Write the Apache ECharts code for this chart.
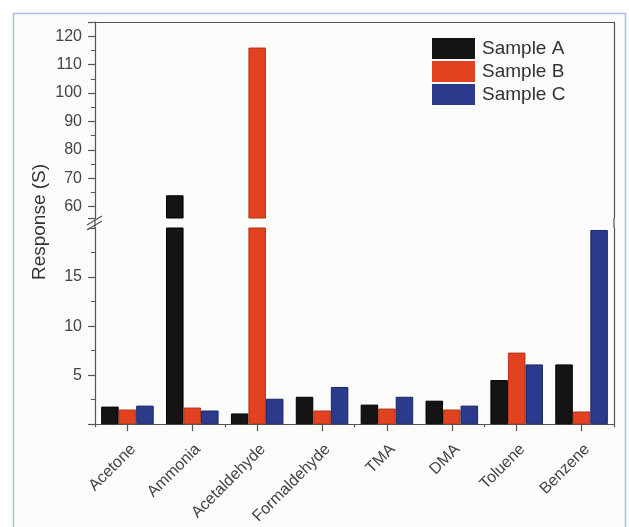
<!DOCTYPE html>
<html>
<head>
<meta charset="utf-8">
<script src="https://cdn.jsdelivr.net/npm/echarts@6/dist/echarts.min.js"></script>
<style>html,body{margin:0;padding:0;background:#fff}#c{width:629px;height:527px}</style>
</head>
<body>
<div id="c"></div>
<script>
const categories = ['Acetone','Ammonia','Acetaldehyde','Formaldehyde','TMA','DMA','Toluene','Benzene'];
const sampleA = [1.8, 64, 1.1, 2.8, 2.0, 2.4, 4.5, 6.1];
const sampleB = [1.5, 1.7, 116, 1.4, 1.6, 1.5, 7.3, 1.3];
const sampleC = [1.9, 1.4, 2.6, 3.8, 2.8, 1.9, 6.1, 19.8];
const seriesNames = ['Sample A','Sample B','Sample C'];
const upperRange = [56, 125];
const lowerRange = [0, 20];
const upperTickLabels = [60, 70, 80, 90, 100, 110, 120];
const lowerTickLabels = [5, 10, 15];

const W = 629, H = 527;
const L = 95, R = 614, T = 22, breakTop = 218, breakBot = 228, B = 425;
const font = 'Liberation Sans, Arial, sans-serif';
const axisCol = '#555';
const colors = ['#141414', '#e2421f', '#2b3a8a'];
const borders = ['#000000', '#b0331a', '#1c2866'];

const chart = echarts.init(document.getElementById('c'), null, {renderer: 'canvas'});

const baseY = {
  type: 'value',
  axisLine: {show: true, lineStyle: {color: axisCol, width: 1.2}},
  axisTick: {show: true, length: 7, lineStyle: {color: axisCol, width: 1.2}},
  minorTick: {show: true, splitNumber: 2, length: 4, lineStyle: {color: axisCol, width: 1}},
  splitLine: {show: false},
  axisLabel: {fontSize: 16, color: '#444', margin: 13, fontFamily: font}
};

const rightY = (g) => ({
  type: 'value', gridIndex: g, position: 'right',
  min: g === 0 ? upperRange[0] : lowerRange[0], max: g === 0 ? upperRange[1] : lowerRange[1],
  axisLine: {show: true, onZero: false, lineStyle: {color: axisCol, width: 1.2}},
  axisTick: {show: false}, axisLabel: {show: false}, splitLine: {show: false}
});

const allData = [sampleA, sampleB, sampleC];
const series = [];
for (let g = 0; g < 2; g++) {
  for (let i = 0; i < 3; i++) {
    series.push({
      name: seriesNames[i], type: 'bar',
      xAxisIndex: g === 0 ? 0 : 1, yAxisIndex: g === 0 ? 0 : 2,
      data: allData[i], clip: true,
      barGap: '0%', barCategoryGap: '19%',
      itemStyle: {color: colors[i], borderColor: borders[i], borderWidth: 1},
      emphasis: {disabled: true}
    });
  }
}

const option = {
  backgroundColor: '#ffffff',
  animation: false,
  grid: [
    {left: L, right: W - R, top: T, bottom: H - breakTop},
    {left: L, right: W - R, top: breakBot, bottom: H - B}
  ],
  xAxis: [
    {type: 'category', gridIndex: 0, data: categories, position: 'top',
     axisLine: {show: true, lineStyle: {color: axisCol, width: 1.2}},
     axisTick: {show: false}, axisLabel: {show: false}},
    {type: 'category', gridIndex: 1, data: categories, position: 'bottom',
     axisLine: {show: true, lineStyle: {color: axisCol, width: 1.2}},
     axisTick: {show: true, alignWithLabel: true, length: 7, lineStyle: {color: axisCol, width: 1.2}},
     axisLabel: {rotate: 45, fontSize: 16, color: '#444', margin: 17, verticalAlign: 'top',
                 fontFamily: font, interval: 0}},
    {type: 'category', gridIndex: 1, data: categories, position: 'bottom',
     axisLine: {show: false},
     axisTick: {show: true, length: 3, lineStyle: {color: axisCol, width: 1.2}},
     axisLabel: {show: false}}
  ],
  yAxis: [
    Object.assign({}, baseY, {gridIndex: 0, min: upperRange[0], max: upperRange[1], splitNumber: 7,
      axisLabel: Object.assign({}, baseY.axisLabel, {
        formatter: v => upperTickLabels.indexOf(Math.round(v)) >= 0 && Math.abs(v - Math.round(v)) < 1e-6 ? String(Math.round(v)) : ''})}),
    rightY(0),
    Object.assign({}, baseY, {gridIndex: 1, min: lowerRange[0], max: lowerRange[1], interval: 5,
      axisLabel: Object.assign({}, baseY.axisLabel, {
        formatter: v => lowerTickLabels.indexOf(v) >= 0 ? String(v) : ''})}),
    rightY(1)
  ],
  legend: {
    data: seriesNames, orient: 'vertical', left: 432, top: 38, padding: 0,
    itemWidth: 43, itemHeight: 21, itemGap: 2, icon: 'rect', selectedMode: false,
    itemStyle: {borderWidth: 0},
    textStyle: {fontSize: 19, color: '#333', fontFamily: font, padding: [0, 0, 0, 2]}
  },
  graphic: {
    elements: [
      {type: 'rect', z: -100, silent: true,
       shape: {x: 13.5, y: 13.5, width: 612, height: 530},
       style: {fill: '#fbfbfa', stroke: '#aac0e8', lineWidth: 1.5}},
      {type: 'line', silent: true, shape: {x1: L, y1: breakTop, x2: L, y2: breakBot},
       style: {stroke: axisCol, lineWidth: 1.2}},
      {type: 'line', silent: true, shape: {x1: R, y1: breakTop, x2: R, y2: breakBot},
       style: {stroke: axisCol, lineWidth: 1.2}},
      {type: 'line', silent: true, shape: {x1: L - 8, y1: 225, x2: L + 7, y2: 216},
       style: {stroke: axisCol, lineWidth: 1.3}},
      {type: 'line', silent: true, shape: {x1: L - 8, y1: 230, x2: L + 7, y2: 221},
       style: {stroke: axisCol, lineWidth: 1.3}},
      {type: 'text', silent: true, x: 40, y: 222, rotation: Math.PI / 2,
       style: {text: 'Response (S)', fontSize: 19, fontFamily: font, fill: '#333',
               textAlign: 'center', textVerticalAlign: 'middle'}}
    ]
  },
  series: series
};
chart.setOption(option);
</script>
</body>
</html>
